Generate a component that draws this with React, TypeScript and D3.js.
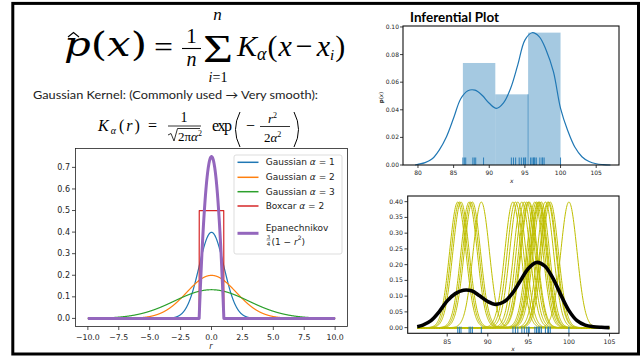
import React from 'react'
import * as d3 from 'd3'

// ---- left panel: kernel shapes ----
const gaussianAlphas = [1, 2, 3]
const gaussianColors = ['#1f77b4', '#ff7f0e', '#2ca02c']
const boxcarAlpha = 2
const kernelXTicks = [-10, -7.5, -5, -2.5, 0, 2.5, 5, 7.5, 10]
const kernelYTicks = [0, 0.1, 0.2, 0.3, 0.4, 0.5, 0.6, 0.7]

const observations = [
    86.3, 86.5, 86.7, 87.7, 87.9, 88.1, 89.2, 93.1, 93.4, 93.7, 94.2, 94.5, 94.8,
    95.0, 95.1, 95.8, 96.0, 96.2, 96.3, 96.4, 96.6, 97.1, 97.4, 97.5, 97.7, 100.0
]
const histEdges = [86.3, 90.85, 95.45, 100.0]
const histDensity = [0.0739, 0.0512, 0.0959]
const kdeX = [79.6, 80, 81, 82, 83, 84, 85, 86, 87, 88, 89, 90, 91, 92, 93, 94, 95, 96, 97, 98, 99, 100, 101, 102, 103, 104, 105, 106, 107]
const kdeY = [0.0, 0.0005, 0.0017, 0.0045, 0.011, 0.0205, 0.034, 0.048, 0.0538, 0.0542, 0.0505, 0.0447, 0.041, 0.045, 0.0556, 0.0725, 0.0905, 0.0958, 0.093, 0.083, 0.0676, 0.041, 0.025, 0.013, 0.006, 0.0025, 0.0009, 0.0003, 0.0]
const inferTicksX = [80, 85, 90, 95, 100, 105]
const inferTicksY = [0, 0.02, 0.04, 0.06, 0.08, 0.1]

const sumX = [81.3, 82, 83, 84, 85, 86, 87, 88, 89, 90, 91, 92, 93, 94, 95, 96, 97, 98, 99, 100, 101, 102, 103, 104, 105]
const sumY = [0.003, 0.008, 0.022, 0.05, 0.085, 0.108, 0.119, 0.117, 0.101, 0.083, 0.074, 0.082, 0.108, 0.148, 0.188, 0.207, 0.196, 0.158, 0.104, 0.054, 0.022, 0.008, 0.003, 0.001, 0.0]
const kernelSumTicksX = [85, 90, 95, 100, 105]
const kernelSumTicksY = [0, 0.05, 0.1, 0.15, 0.2, 0.25, 0.3, 0.35, 0.4]

const gaussian = (r: number, a: number) => Math.exp(-(r * r) / (2 * a * a)) / Math.sqrt(2 * Math.PI * a * a)
const boxcar = (r: number, a: number) => (Math.abs(r) < a / 2 ? 1 / a : 0)
const epanechnikov = (r: number) => (Math.abs(r) < 1 ? 0.75 * (1 - r * r) : 0)

const minus = (s: string) => s.replace('-', '\u2212')
const TICK_FONT = "'DejaVu Sans', sans-serif"
const MATH_FONT = "'Liberation Serif', 'DejaVu Serif', serif"
const WIDE_MATH_FONT = "'DejaVu Serif', serif"
const SLIDE_FONT = "'Lato', 'Open Sans', sans-serif"

const Formulas = () => (
    <g style={{ fontFamily: MATH_FONT }} fill='#000'>
        {/* p-hat(x) = 1/n sum K(x - x_i) */}
        <text x={64} y={56} fontSize={33} style={{ fontFamily: WIDE_MATH_FONT }} textLength={83} lengthAdjust='spacingAndGlyphs'>
            <tspan fontStyle='italic'>p</tspan>(<tspan fontStyle='italic'>x</tspan>)
        </text>
        <path d='M68,37 L73.5,32.5 L79,37' fill='none' stroke='#000' strokeWidth={1.1} />
        <text x={154} y={57} fontSize={30} textLength={19} lengthAdjust='spacingAndGlyphs'>=</text>
        <text x={191.5} y={43} fontSize={21} textAnchor='middle'>1</text>
        <line x1={182} x2={201} y1={48.5} y2={48.5} stroke='#000' strokeWidth={1.1} />
        <text x={191.5} y={66} fontSize={20} fontStyle='italic' textAnchor='middle'>n</text>
        <text x={203} y={62} fontSize={40} textLength={30} lengthAdjust='spacingAndGlyphs'>Σ</text>
        <text x={217.5} y={20} fontSize={17} fontStyle='italic' textAnchor='middle'>n</text>
        <text x={218} y={82} fontSize={14} textAnchor='middle'>
            <tspan fontStyle='italic'>i</tspan>=1
        </text>
        <text x={237} y={56} fontSize={30}>
            <tspan fontStyle='italic'>K</tspan>
            <tspan fontStyle='italic' fontSize={18} dy={4}>α</tspan>
            <tspan dy={-4} dx={1}>(</tspan>
            <tspan fontStyle='italic' dx={1}>x</tspan>
            <tspan dx={4}>−</tspan>
            <tspan fontStyle='italic' dx={4}>x</tspan>
            <tspan fontStyle='italic' fontSize={15} dy={4}>i</tspan>
            <tspan dy={-4} dx={1}>)</tspan>
        </text>

        <text x={33} y={99} fontSize={11} style={{ fontFamily: SLIDE_FONT }} fill='#222' textLength={285} lengthAdjust='spacingAndGlyphs'>
            Gaussian Kernel: (Commonly used → Very smooth):
        </text>

        {/* K(r) = 1/sqrt(2 pi a^2) exp(-r^2 / 2a^2) */}
        <text x={98} y={131} fontSize={16} textLength={59} lengthAdjust='spacing'>
            <tspan fontStyle='italic'>K</tspan>
            <tspan fontStyle='italic' fontSize={10} dy={3}>α</tspan>
            <tspan dy={-3} dx={1}>(</tspan>
            <tspan fontStyle='italic'>r</tspan>
            <tspan>) =</tspan>
        </text>
        <text x={184} y={122} fontSize={14} textAnchor='middle'>1</text>
        <line x1={168} x2={201} y1={126} y2={126} stroke='#000' strokeWidth={0.8} />
        <path d='M168,135 L171,133.5 L174,141 L177.5,128.5 L200,128.5' fill='none' stroke='#000' strokeWidth={0.8} />
        <text x={178} y={141} fontSize={13}>
            2π<tspan fontStyle='italic'>α</tspan>
            <tspan fontSize={8} dy={-5}>2</tspan>
        </text>
        <text x={212} y={131} fontSize={16} textLength={20} lengthAdjust='spacing'>exp</text>
        <path d='M240,112 Q231,129.5 240,147' fill='none' stroke='#000' strokeWidth={1} />
        <text x={246} y={131} fontSize={16}>−</text>
        <text x={268} y={123} fontSize={13}>
            <tspan fontStyle='italic'>r</tspan>
            <tspan fontSize={8} dy={-5}>2</tspan>
        </text>
        <line x1={260} x2={290} y1={126.5} y2={126.5} stroke='#000' strokeWidth={0.8} />
        <text x={264} y={142} fontSize={13}>
            2<tspan fontStyle='italic'>α</tspan>
            <tspan fontSize={8} dy={-5}>2</tspan>
        </text>
        <path d='M294,112 Q303,129.5 294,147' fill='none' stroke='#000' strokeWidth={1} />
    </g>
)

const KernelChart = () => {
    const x = d3.scaleLinear().domain([-11, 11]).range([75.5, 347.5])
    const y = d3.scaleLinear().domain([-0.0375, 0.7875]).range([326.5, 148.5])
    const rGrid = d3.range(-10, 10.0001, 0.01)
    const line = d3
        .line<number[]>()
        .x(d => x(d[0]))
        .y(d => y(d[1]))
    const series = [
        ...gaussianAlphas.map((a, i) => ({
            pts: rGrid.map(r => [r, gaussian(r, a)]),
            color: gaussianColors[i],
            width: 1.2
        })),
        { pts: rGrid.map(r => [r, boxcar(r, boxcarAlpha)]), color: '#d62728', width: 1.2 },
        { pts: rGrid.map(r => [r, epanechnikov(r)]), color: '#9467bd', width: 3 }
    ]
    const legendRows = [
        { label: '1', color: gaussianColors[0], y: 162.3, name: 'Gaussian' },
        { label: '2', color: gaussianColors[1], y: 177.3, name: 'Gaussian' },
        { label: '3', color: gaussianColors[2], y: 191.7, name: 'Gaussian' },
        { label: '2', color: '#d62728', y: 206, name: 'Boxcar' }
    ]
    return (
        <g style={{ fontFamily: TICK_FONT }}>
            {series.map((s, i) => (
                <path key={i} d={line(s.pts)} fill='none' stroke={s.color} strokeWidth={s.width} strokeLinejoin='round' />
            ))}
            <rect x={75.5} y={148.5} width={272} height={178} fill='none' stroke='#222' strokeWidth={0.8} />
            {kernelYTicks.map(t => (
                <g key={t}>
                    <line x1={72} x2={75.5} y1={y(t)} y2={y(t)} stroke='#222' strokeWidth={0.8} />
                    <text x={70} y={y(t)} dy='0.33em' fontSize={8} textAnchor='end' fill='#222'>
                        {d3.format('.1f')(t)}
                    </text>
                </g>
            ))}
            {kernelXTicks.map(t => (
                <g key={t}>
                    <line x1={x(t)} x2={x(t)} y1={326.5} y2={330} stroke='#222' strokeWidth={0.8} />
                    <text x={x(t)} y={339.5} fontSize={7.8} textAnchor='middle' fill='#222'>
                        {minus(d3.format('.1f')(t))}
                    </text>
                </g>
            ))}
            <text x={211} y={349} fontSize={8} fontStyle='italic' textAnchor='middle' fill='#222'>r</text>

            <rect x={234} y={155} width={108} height={99} rx={2} fill='#fff' fillOpacity={0.85} stroke='#d4d4d4' strokeWidth={0.8} />
            {legendRows.map((r, i) => (
                <g key={i}>
                    <line x1={237.5} x2={258.5} y1={r.y} y2={r.y} stroke={r.color} strokeWidth={1.5} />
                    <text x={265.7} y={r.y} dy='0.35em' fontSize={9} fill='#222'>
                        {r.name} <tspan fontStyle='italic'>α</tspan> = {r.label}
                    </text>
                </g>
            ))}
            <line x1={237.5} x2={258.5} y1={233.3} y2={233.3} stroke='#9467bd' strokeWidth={3} />
            <text x={265.7} y={230.7} fontSize={9} fill='#222'>Epanechnikov</text>
            <text x={268.5} y={238.5} fontSize={5.5} textAnchor='middle' fill='#222'>3</text>
            <line x1={266.5} x2={270.5} y1={240} y2={240} stroke='#222' strokeWidth={0.5} />
            <text x={268.5} y={245.5} fontSize={5.5} textAnchor='middle' fill='#222'>4</text>
            <text x={271.5} y={245} fontSize={9} fill='#222'>
                (1 − <tspan fontStyle='italic'>r</tspan>
                <tspan fontSize={6} dy={-5}>2</tspan>
                <tspan dy={5}>)</tspan>
            </text>
        </g>
    )
}

const InferentialChart = () => {
    const x = d3.scaleLinear().domain([77.9, 108.2]).range([403, 619])
    const y = d3.scaleLinear().domain([0, 0.1007]).range([165, 26])
    const kde = d3
        .line<number>()
        .x((_, i) => x(kdeX[i]))
        .y(d => y(d))
        .curve(d3.curveCatmullRom)
    return (
        <g style={{ fontFamily: TICK_FONT }}>
            <text x={410} y={22} fontSize={14} fontWeight='bold' style={{ fontFamily: SLIDE_FONT }} textLength={89} lengthAdjust='spacingAndGlyphs'>
                Inferential Plot
            </text>
            {histDensity.map((d, i) => (
                <rect
                    key={i}
                    x={x(histEdges[i])}
                    y={y(d)}
                    width={x(histEdges[i + 1]) - x(histEdges[i])}
                    height={y(0) - y(d)}
                    fill='#1f77b4'
                    fillOpacity={0.4}
                />
            ))}
            <line x1={x(histEdges[2])} x2={x(histEdges[2])} y1={y(histDensity[1])} y2={y(0)} stroke='#1f77b4' strokeOpacity={0.7} strokeWidth={0.8} />
            {observations.map((o, i) => (
                <line key={i} x1={x(o)} x2={x(o)} y1={y(0)} y2={y(0) - 7.5} stroke='#1f77b4' strokeWidth={0.9} />
            ))}
            <path d={kde(kdeY)} fill='none' stroke='#1f77b4' strokeWidth={1.2} />
            <rect x={403} y={26} width={216} height={139} fill='none' stroke='#111' strokeWidth={1.1} />
            {inferTicksY.map(t => (
                <g key={t}>
                    <line x1={400} x2={403} y1={y(t)} y2={y(t)} stroke='#111' strokeWidth={0.8} />
                    <text x={399} y={y(t)} dy='0.33em' fontSize={6} textAnchor='end' fill='#222'>
                        {d3.format('.2f')(t)}
                    </text>
                </g>
            ))}
            {inferTicksX.map(t => (
                <g key={t}>
                    <line x1={x(t)} x2={x(t)} y1={165} y2={168} stroke='#111' strokeWidth={0.8} />
                    <text x={x(t)} y={175} fontSize={6} textAnchor='middle' fill='#222'>{t}</text>
                </g>
            ))}
            <text x={511.7} y={183} fontSize={6} fontStyle='italic' textAnchor='middle' fill='#222'>x</text>
            <text transform='translate(383,97.5) rotate(-90)' fontSize={5.5} textAnchor='middle' fill='#222'>
                <tspan fontWeight='bold'>p</tspan>(<tspan fontStyle='italic'>x</tspan>)
            </text>
        </g>
    )
}

const KernelSumChart = () => {
    const x = d3.scaleLinear().domain([80.13, 106.17]).range([407.7, 619])
    const y = d3.scaleLinear().domain([-0.018, 0.418]).range([333.3, 196])
    const [lo, hi] = d3.extent(observations) as [number, number]
    const grid = d3.range(lo - 5, hi + 5.0001, 0.05)
    const line = d3
        .line<number[]>()
        .x(d => x(d[0]))
        .y(d => y(d[1]))
    const sumLine = d3
        .line<number>()
        .x((_, i) => x(sumX[i]))
        .y(d => y(d))
        .curve(d3.curveCatmullRom)
    return (
        <g style={{ fontFamily: TICK_FONT }}>
            {observations.map((o, i) => (
                <path key={i} d={line(grid.map(g => [g, gaussian(g - o, 1)]))} fill='none' stroke='#bfbf00' strokeWidth={1} />
            ))}
            {observations.map((o, i) => (
                <line key={i} x1={x(o)} x2={x(o)} y1={y(0.003)} y2={333.3} stroke='#1f77b4' strokeWidth={1} />
            ))}
            <path d={sumLine(sumY)} fill='none' stroke='#000' strokeWidth={3.6} strokeLinejoin='round' />
            <rect x={407.7} y={196} width={211.3} height={137.3} fill='none' stroke='#111' strokeWidth={1.1} />
            {kernelSumTicksY.map(t => (
                <g key={t}>
                    <line x1={404.5} x2={407.7} y1={y(t)} y2={y(t)} stroke='#111' strokeWidth={0.8} />
                    <text x={403} y={y(t)} dy='0.33em' fontSize={6.2} textAnchor='end' fill='#222'>
                        {d3.format('.2f')(t)}
                    </text>
                </g>
            ))}
            {kernelSumTicksX.map(t => (
                <g key={t}>
                    <line x1={x(t)} x2={x(t)} y1={333.3} y2={336.5} stroke='#111' strokeWidth={0.8} />
                    <text x={x(t)} y={343.5} fontSize={6.2} textAnchor='middle' fill='#222'>{t}</text>
                </g>
            ))}
            <text x={513} y={350.5} fontSize={6} fontStyle='italic' textAnchor='middle' fill='#222'>x</text>
        </g>
    )
}

export default function App() {
    return (
        <div style={{ position: 'absolute', left: 0, top: 0 }}>
            <svg width={640} height={356} style={{ display: 'block', background: '#fff' }}>
                <Formulas />
                <KernelChart />
                <InferentialChart />
                <KernelSumChart />
                <rect x={12.8} y={3.4} width={625.7} height={350.6} fill='none' stroke='#000' strokeWidth={3} />
            </svg>
        </div>
    )
}
